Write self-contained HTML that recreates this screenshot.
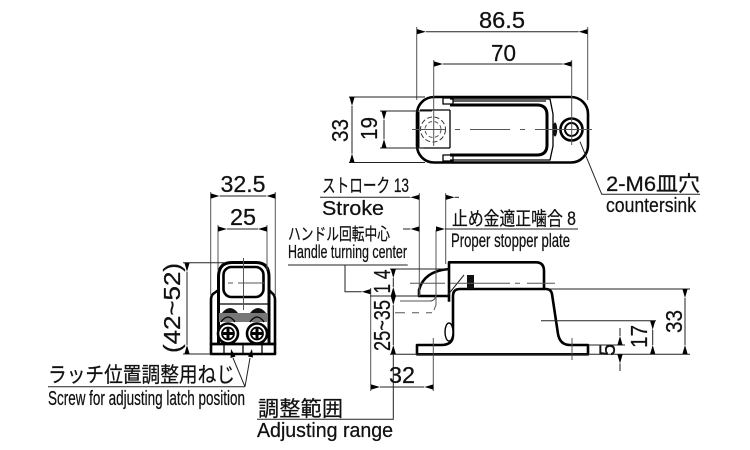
<!DOCTYPE html>
<html><head><meta charset="utf-8"><style>
html,body{margin:0;padding:0;background:#fff}
svg{display:block}
text{font-family:"Liberation Sans","Noto Sans CJK JP",sans-serif;fill:#111;stroke:#111;stroke-width:.25}
.d{fill:none;stroke:#222;stroke-width:1}
.g{fill:none;stroke:#555;stroke-width:1}
.t{fill:none;stroke:#000;stroke-width:2.6;stroke-linejoin:round}
.m{fill:none;stroke:#000;stroke-width:1.3}
</style></head><body>
<svg width="750" height="450" viewBox="0 0 750 450" xmlns="http://www.w3.org/2000/svg">
<defs><marker id="a" viewBox="0 0 9 5.6" refX="0" refY="2.8" markerWidth="9" markerHeight="5.6" markerUnits="userSpaceOnUse" orient="auto-start-reverse"><path d="M0 2.8L9 0.2V5.4Z" fill="#000"/></marker></defs>

<!-- TOP VIEW -->
<rect x="417" y="97" width="171" height="65.5" rx="17" fill="#fff" class="t"/>
<path class="t" style="stroke-width:3" d="M450 105H537Q547 105 547 115V145Q547 155 537 155H450"/>
<path class="m" d="M450 110V148M420 110H450M420 148H450M450 99H550L553 114V146L550 160H450M453 101H546"/>
<path class="m" d="M443 104V98H453V104ZM443 155V161H453V155Z" fill="#fff"/>
<path d="M418 112V148" stroke="#000" stroke-width="3" fill="none"/>
<ellipse cx="555" cy="129.5" rx="2.2" ry="7" fill="#111"/>
<circle cx="433" cy="129.5" r="12.5" fill="none" stroke="#333" stroke-dasharray="5 2.5"/>
<circle cx="433" cy="129.5" r="8" fill="none" stroke="#555" stroke-dasharray="4 2.5"/>
<circle cx="571.5" cy="129.5" r="11" class="t"/>
<circle cx="571.5" cy="129.5" r="6.5" fill="none" stroke="#000" stroke-width="2"/>
<path class="g" d="M412 129.5H445M455 129.5H460M470 129.5H510M520 129.5H525M535 129.5H592"/>
<path class="g" d="M416.7 27V100M587.7 27V100M433.7 60V146M571.7 60V145"/>
<path class="d" d="M349 97H425M349 162.5H425M380 111H432M380 148H424"/>
<path class="d" d="M426 31.7H578.7" marker-start="url(#a)" marker-end="url(#a)"/>
<path class="d" d="M443 64H562.5" marker-start="url(#a)" marker-end="url(#a)"/>
<path class="d" d="M352 106V153.5" marker-start="url(#a)" marker-end="url(#a)"/>
<path class="d" d="M384 120V139" marker-start="url(#a)" marker-end="url(#a)"/>
<path class="d" d="M580 141.7L601.7 194.3H700"/>
<text x="479" y="28" font-size="23" textLength="46" lengthAdjust="spacingAndGlyphs">86.5</text>
<text x="491" y="61" font-size="23" textLength="25" lengthAdjust="spacingAndGlyphs">70</text>
<text transform="translate(348,142) rotate(-90)" font-size="23" textLength="23" lengthAdjust="spacingAndGlyphs">33</text>
<text transform="translate(377,140) rotate(-90)" font-size="23" textLength="23" lengthAdjust="spacingAndGlyphs">19</text>
<text x="606" y="191" font-size="21" textLength="94" lengthAdjust="spacingAndGlyphs">2-M6皿穴</text>
<text x="606" y="212" font-size="20" textLength="90" lengthAdjust="spacingAndGlyphs">countersink</text>

<!-- LEFT VIEW -->
<path class="t" d="M218.5 290L213 294Q211 296 211 300V344H275V300Q275 296 273 294L269 290"/>
<path class="t" style="stroke-width:3" d="M218.5 344V277Q218.5 262.5 232 262.5H256Q269 262.5 269 277V344"/>
<rect x="223.5" y="267" width="40" height="30" rx="8" class="t" fill="#fff"/>
<rect x="211" y="344" width="64" height="10" class="t" fill="#fff"/>
<path class="m" d="M224 344V354M243 344V354M262 344V354M219 304H268"/>
<path d="M222 313Q230 303 238 313ZM250 313Q258 303 266 313Z" fill="#111"/>
<rect x="219" y="313" width="49" height="9" fill="#777"/>
<path class="m" d="M221 322Q228 312 235 322M250 322Q257 312 264 322"/>
<g fill="#fff" stroke="#000" stroke-width="2.6"><circle cx="228" cy="333.5" r="10"/><circle cx="257" cy="333.5" r="10"/></g>
<g fill="none" stroke="#000" stroke-width="1.8"><circle cx="228" cy="333.5" r="6"/><circle cx="257" cy="333.5" r="6"/></g>
<path d="M223 333.5H233M228 328.5V338.5M252 333.5H262M257 328.5V338.5" stroke="#000" stroke-width="3"/>
<path class="g" d="M210.7 192V296M275.3 192V296M218 225V270M267 225V270M243.5 258V310M228 283H233M238 283H264"/>
<path class="d" d="M183 262.7H225M183 354H212"/>
<path class="d" d="M219.7 196H266.3" marker-start="url(#a)" marker-end="url(#a)"/>
<path class="d" d="M227 229H258" marker-start="url(#a)" marker-end="url(#a)"/>
<path class="d" d="M187 271.7V345" marker-start="url(#a)" marker-end="url(#a)"/>
<text x="220.5" y="192" font-size="23" textLength="45" lengthAdjust="spacingAndGlyphs">32.5</text>
<text x="230" y="225" font-size="23" textLength="26" lengthAdjust="spacingAndGlyphs">25</text>
<text transform="translate(180,353) rotate(-90)" font-size="23" textLength="90" lengthAdjust="spacingAndGlyphs">(42~52)</text>
<path class="d" d="M48 386.7H245M245 386.7L233 358M245 386.7L250 358"/>
<path d="M231 349L235.5 356.5L230.5 358ZM252 349L253 357.5L248 356.5Z" fill="#000"/>
<text x="48" y="382" font-size="21" textLength="187" lengthAdjust="spacingAndGlyphs">ラッチ位置調整用ねじ</text>
<text x="48" y="405" font-size="20" textLength="197" lengthAdjust="spacingAndGlyphs">Screw for adjusting latch position</text>

<!-- SIDE VIEW -->
<path class="t" d="M449 301.7V262.3H536Q544 262.3 544 271V289"/>
<path class="t" d="M449 269Q424 271 419 290V296H449"/>
<path class="t" d="M453 335V296Q453 289 460 289H546Q551 289 552 294L558 334Q560 345 570 345H588V354.3H417V345H441Q453 345 453 335Z" fill="#fff"/>
<ellipse cx="449" cy="332" rx="4" ry="9" fill="#fff" stroke="#000" stroke-width="1.4"/>
<rect x="467" y="275" width="7" height="14" fill="#111"/>
<path class="d" d="M447 296L464 275"/>
<path class="g" d="M410 283.3H445M450 283.3H510M515 283.3H520M527 283.3H555"/>
<path class="g" d="M400 301H430Q435 301 436 295M395 312.7H405M412 312.7H419M426 312.7H432M436 230V305L434 310"/>
<path class="g" d="M419.3 193V296M445.7 193V264M572 338V360M433.3 338V391M370.7 288V391"/>
<path class="d" d="M390 269H449M370 296H419M390 354.3H690M548 289H690M541 320.7H656M588 345H625"/>
<path class="d" d="M393.3 278V287" marker-start="url(#a)" marker-end="url(#a)"/>
<path class="d" d="M393.3 305V345" marker-start="url(#a)" marker-end="url(#a)"/>
<path class="d" d="M393.3 354V419.3H257"/>
<path class="d" d="M685 298V345" marker-start="url(#a)" marker-end="url(#a)"/>
<path class="d" d="M652.7 329.7V345" marker-start="url(#a)" marker-end="url(#a)"/>
<path class="d" d="M620 328V336" marker-end="url(#a)"/>
<path class="d" d="M620 371V363.5" marker-end="url(#a)"/>
<path class="d" d="M380 387H424.3" marker-start="url(#a)" marker-end="url(#a)"/>
<path class="d" d="M320 197.3H410.3" marker-end="url(#a)"/>
<path class="d" d="M459 197.3H454.7" marker-end="url(#a)"/>
<path class="d" d="M403 229H410.3" marker-end="url(#a)"/>
<path class="d" d="M578 229H445" marker-end="url(#a)"/>
<path class="d" d="M288 265H407.7M345 265V291.7H361.7" marker-end="url(#a)"/>
<text transform="translate(390,293.5) rotate(-90)" font-size="23" textLength="24" lengthAdjust="spacingAndGlyphs">1 4</text>
<text transform="translate(390,351) rotate(-90)" font-size="23" textLength="51" lengthAdjust="spacingAndGlyphs">25~35</text>
<text transform="translate(682,333) rotate(-90)" font-size="23" textLength="23" lengthAdjust="spacingAndGlyphs">33</text>
<text transform="translate(647,348) rotate(-90)" font-size="23" textLength="23" lengthAdjust="spacingAndGlyphs">17</text>
<text transform="translate(615,356) rotate(-90)" font-size="22">5</text>
<text x="389" y="383" font-size="23" textLength="26" lengthAdjust="spacingAndGlyphs">32</text>
<text x="322" y="192" font-size="19" textLength="87" lengthAdjust="spacingAndGlyphs">ストローク 13</text>
<text x="322" y="215" font-size="20" textLength="62" lengthAdjust="spacingAndGlyphs">Stroke</text>
<text x="452" y="225" font-size="19" textLength="124" lengthAdjust="spacingAndGlyphs">止め金適正噛合 8</text>
<text x="451" y="247" font-size="19" textLength="119" lengthAdjust="spacingAndGlyphs">Proper stopper plate</text>
<text x="288" y="240" font-size="17" textLength="102" lengthAdjust="spacingAndGlyphs">ハンドル回転中心</text>
<text x="288" y="258" font-size="18" textLength="119" lengthAdjust="spacingAndGlyphs">Handle turning center</text>
<text x="258" y="416" font-size="21" textLength="85" lengthAdjust="spacing">調整範囲</text>
<text x="257" y="437" font-size="20" textLength="136" lengthAdjust="spacingAndGlyphs">Adjusting range</text>
</svg>
</body></html>
